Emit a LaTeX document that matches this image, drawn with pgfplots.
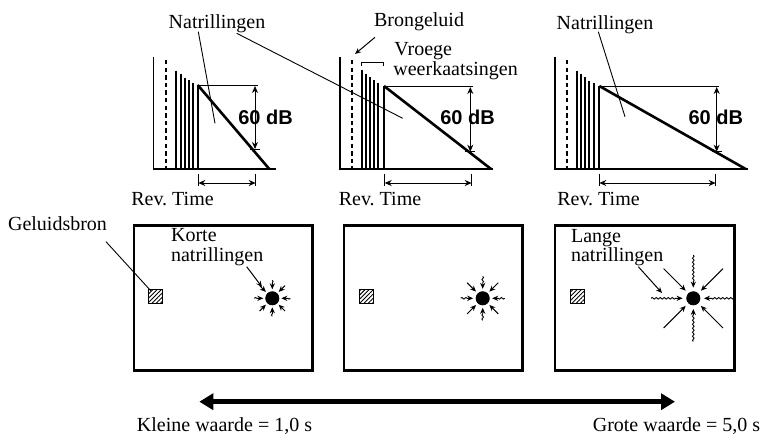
\documentclass[border=0pt]{standalone}
\usepackage{fontspec}
\setmainfont{Liberation Serif}
\newfontfamily\lsans{Liberation Sans}
\usepackage{pgfplots}
\pgfplotsset{compat=1.18}
\usetikzlibrary{arrows.meta,decorations.pathmorphing,patterns.meta}
\begin{document}
\begin{tikzpicture}[every node/.style={font=\fontsize{10}{12}\selectfont, inner sep=0pt},
  ax/.style={line width=0.6pt},
  bar/.style={line width=1pt},
  decay/.style={line width=1.3pt},
  lead/.style={line width=0.45pt},
  dbl/.style={line width=0.5pt, {Stealth[length=3.5pt,width=3pt]}-{Stealth[length=3.5pt,width=3pt]}},
  wav/.style={line width=0.45pt, decorate, decoration={snake, amplitude=0.4pt, segment length=2pt, post length=3pt}, -{Stealth[length=3pt,width=2.6pt]}},
  str/.style={line width=0.5pt, -{Stealth[length=3pt,width=2.6pt]}},
  room/.style={line width=1.3pt},
  dot/.style={only marks, mark=*, mark size=3.3pt}]
\begin{axis}[name=ax, x=0.5pt, y=0.5pt, y dir=reverse, xmin=0, xmax=761, ymin=0, ymax=434,
  scale only axis, hide axis, clip=false, unbounded coords=jump,
  every axis plot/.append style={black}]

% ---------- decay panels: axes ----------
\addplot[ax] coordinates {(153.3,57)(153.3,169)(276,169)};
\addplot[ax] coordinates {(340,57)(340,169)(493,169)};
\addplot[ax] coordinates {(555,57)(555,169)(748,169)};
% direct sound (dashed)
\addplot[line width=1pt, dash pattern=on 2.2pt off 1.6pt] coordinates {(165.7,60)(165.7,169)};
\addplot[line width=1pt, dash pattern=on 2.2pt off 1.6pt] coordinates {(352,60)(352,169)};
\addplot[line width=1pt, dash pattern=on 2.2pt off 1.6pt] coordinates {(566.7,60)(566.7,169)};
% early reflections
\addplot[bar] coordinates {
(176,70.7)(176,169)(176,nan)(181,74)(181,169)(181,nan)(185.3,77.7)(185.3,169)(185.3,nan)
(189.3,80)(189.3,169)(189.3,nan)(193.3,82.7)(193.3,169)(193.3,nan)(197.7,85)(197.7,169)(197.7,nan)
(361.7,70)(361.7,169)(361.7,nan)(366,74)(366,169)(366,nan)(370,77.3)(370,169)(370,nan)
(374,80)(374,169)(374,nan)(378.3,82.7)(378.3,169)(378.3,nan)(384,86)(384,169)(384,nan)
(576.7,70.7)(576.7,169)(576.7,nan)(580.7,74)(580.7,169)(580.7,nan)(585,77.3)(585,169)(585,nan)
(589.3,80.7)(589.3,169)(589.3,nan)(594,83.3)(594,169)(594,nan)(599.3,86)(599.3,169)};
% reverberation decay
\addplot[decay] coordinates {(197.7,85)(269.3,169)};
\addplot[decay] coordinates {(384,86)(491,169)};
\addplot[decay] coordinates {(599.3,86)(745.7,169)};
% top reference lines
\addplot[lead] coordinates {(197.7,85)(257.7,85)};
\addplot[lead] coordinates {(384,86)(472.7,86)};
\addplot[lead] coordinates {(599.3,86)(719,86)};
% 60 dB arrows
\addplot[dbl] coordinates {(255,86)(255,149)};
\addplot[dbl] coordinates {(470.3,87)(470.3,151.7)};
\addplot[dbl] coordinates {(716.7,87)(716.7,151.7)};
\addplot[lead] coordinates {(250,149)(260,149)};
\addplot[lead] coordinates {(465,151.7)(475,151.7)};
\addplot[lead] coordinates {(711.7,151.7)(721.7,151.7)};
% Rev. Time brackets
\addplot[lead] coordinates {(198.3,174)(198.3,186)(198.3,nan)(255.7,174)(255.7,186)};
\addplot[lead] coordinates {(384.7,174)(384.7,186)(384.7,nan)(471.7,174)(471.7,186)};
\addplot[lead] coordinates {(599.3,174)(599.3,186)(599.3,nan)(715.7,174)(715.7,186)};
\addplot[dbl] coordinates {(198.3,183)(255.7,183)};
\addplot[dbl] coordinates {(384.7,183)(471.7,183)};
\addplot[dbl] coordinates {(599.3,183)(715.7,183)};
% leader lines
\addplot[lead] coordinates {(198.3,31.7)(215,123.3)};
\addplot[lead] coordinates {(236.7,33.3)(402.7,118.3)};
\addplot[lead] coordinates {(598.3,31.7)(625,116.7)};
\addplot[str] coordinates {(375,37.3)(355,54)};
\addplot[lead] coordinates {(361.7,65.7)(361.7,62.3)(383.3,62.3)(383.3,65.7)};

% ---------- rooms ----------
\addplot[room] coordinates {(134,225.5)(312.3,225.5)(312.3,370.7)(134,370.7)} -- cycle;
\addplot[room] coordinates {(344,225.5)(522.3,225.5)(522.3,370.7)(344,370.7)} -- cycle;
\addplot[room] coordinates {(555,225.5)(734.3,225.5)(734.3,370.7)(555,370.7)} -- cycle;
% sources (hatched squares)
\addplot[line width=0.45pt, pattern={Lines[angle=45,distance=1.5pt,line width=0.45pt]}] coordinates {(148.7,289.3)(162.7,289.3)(162.7,303.3)(148.7,303.3)} -- cycle;
\addplot[line width=0.45pt, pattern={Lines[angle=45,distance=1.5pt,line width=0.45pt]}] coordinates {(359,289.3)(373.3,289.3)(373.3,303.3)(359,303.3)} -- cycle;
\addplot[line width=0.45pt, pattern={Lines[angle=45,distance=1.5pt,line width=0.45pt]}] coordinates {(570,289.3)(584.3,289.3)(584.3,303.3)(570,303.3)} -- cycle;
\addplot[lead] coordinates {(106,241.7)(151,291)};
% listeners
\addplot[dot] coordinates {(272.3,298.3)(482.7,298.3)(693.3,298.3)};
% room 1 rays
\addplot[wav] coordinates {(290.3,298.3)(281.3,298.3)};
\addplot[wav] coordinates {(254.3,298.3)(263.3,298.3)};
\addplot[wav] coordinates {(272.3,280.3)(272.3,289.3)};
\addplot[wav] coordinates {(272.3,316.3)(272.3,307.3)};
\addplot[str] coordinates {(285,285.6)(278.7,291.9)};
\addplot[str] coordinates {(259.6,285.6)(265.9,291.9)};
\addplot[str] coordinates {(285,311)(278.7,304.7)};
\addplot[str] coordinates {(259.6,311)(265.9,304.7)};
\addplot[str] coordinates {(246.7,266.7)(262,287)};
% room 2 rays
\addplot[wav] coordinates {(504.7,298.3)(492.2,298.3)};
\addplot[wav] coordinates {(460.7,298.3)(473.2,298.3)};
\addplot[wav] coordinates {(482.7,276.3)(482.7,288.8)};
\addplot[wav] coordinates {(482.7,320.3)(482.7,307.8)};
\addplot[str] coordinates {(498.3,282.7)(489.4,291.6)};
\addplot[str] coordinates {(467.1,282.7)(476,291.6)};
\addplot[str] coordinates {(498.3,313.9)(489.4,305)};
\addplot[str] coordinates {(467.1,313.9)(476,305)};
% room 3 rays
\addplot[wav] coordinates {(734,298.3)(704,298.3)};
\addplot[wav] coordinates {(651,298.3)(682.6,298.3)};
\addplot[wav] coordinates {(693.3,255)(693.3,287.6)};
\addplot[wav] coordinates {(693.3,341.5)(693.3,309)};
\addplot[str] coordinates {(723,268.6)(700.9,290.7)};
\addplot[str] coordinates {(663.6,268.6)(685.7,290.7)};
\addplot[str] coordinates {(723,328)(700.9,305.9)};
\addplot[str] coordinates {(663.6,328)(685.7,305.9)};
\addplot[str] coordinates {(638.3,266.7)(662,293)};

% ---------- bottom scale arrow ----------
\addplot[line width=2.5pt, {Triangle[length=7pt,width=8pt]}-{Triangle[length=7pt,width=8pt]}] coordinates {(199.3,401.7)(675,401.7)};

% ---------- text ----------
\node[anchor=base] at (axis cs:217,28.3) {Natrillingen};
\node[anchor=base] at (axis cs:605,29.3) {Natrillingen};
\node[anchor=base] at (axis cs:419,26.7) {Brongeluid};
\node[anchor=base west] at (axis cs:394,55) {Vroege};
\node[anchor=base west] at (axis cs:393,75) {weerkaatsingen};
\node[anchor=base, font=\lsans\bfseries\fontsize{10}{12}\selectfont] at (axis cs:265.5,124) {60 dB};
\node[anchor=base, font=\lsans\bfseries\fontsize{10}{12}\selectfont] at (axis cs:467.5,124) {60 dB};
\node[anchor=base, font=\lsans\bfseries\fontsize{10}{12}\selectfont] at (axis cs:715.8,124) {60 dB};
\node[anchor=base] at (axis cs:172.5,205) {Rev.\ Time};
\node[anchor=base] at (axis cs:380,205) {Rev.\ Time};
\node[anchor=base] at (axis cs:598.5,205) {Rev.\ Time};
\node[anchor=base] at (axis cs:57.5,230) {Geluidsbron};
\node[anchor=base west] at (axis cs:170.7,241.7) {Korte};
\node[anchor=base west] at (axis cs:170.7,261.7) {natrillingen};
\node[anchor=base west] at (axis cs:570.7,242) {Lange};
\node[anchor=base west] at (axis cs:570.7,261.7) {natrillingen};
\node[anchor=base] at (axis cs:224.5,431) {Kleine waarde = 1,0 s};
\node[anchor=base] at (axis cs:676.5,431) {Grote waarde = 5,0 s};
\end{axis}
\pgfresetboundingbox
\path (ax.south west) rectangle (ax.north east);
\end{tikzpicture}
\end{document}
